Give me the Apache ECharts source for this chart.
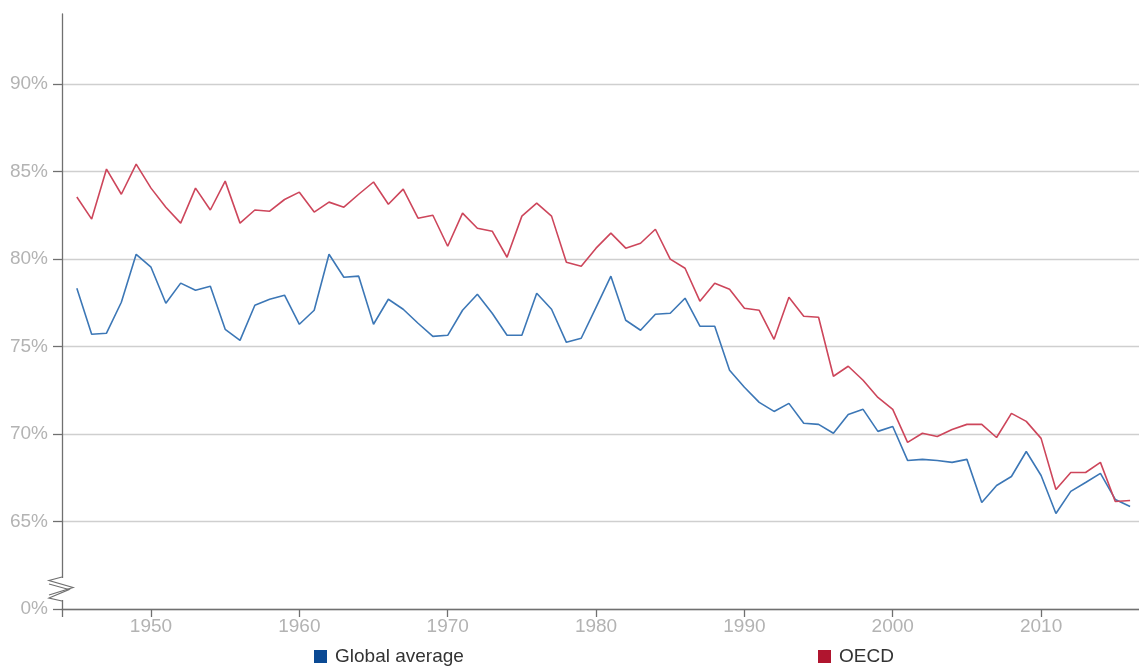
<!DOCTYPE html>
<html>
<head>
<meta charset="utf-8">
<script src="https://cdn.jsdelivr.net/npm/echarts@6/dist/echarts.min.js"></script>
<style>
html,body{margin:0;padding:0;background:#fff;}
#chart{width:1139px;height:668px;}
</style>
</head>
<body>
<div id="chart"></div>
<script>
const years = [];
for (let y = 1945; y <= 2016; y++) years.push(y);

const globalAverage = [
78.33,75.70,75.76,77.53,80.27,79.53,77.47,78.62,78.21,78.44,
75.98,75.35,77.36,77.70,77.93,76.27,77.07,80.27,78.96,79.02,
76.27,77.70,77.13,76.33,75.58,75.64,77.07,77.99,76.90,75.64,
75.64,78.04,77.13,75.24,75.47,77.24,79.02,76.50,75.93,76.84,
76.90,77.76,76.16,76.16,73.64,72.67,71.81,71.29,71.75,70.61,
70.55,70.04,71.12,71.41,70.15,70.43,68.49,68.55,68.49,68.38,
68.55,66.09,67.06,67.57,69.00,67.63,65.46,66.72,67.23,67.75,
66.26,65.86
];

const oecd = [
83.54,82.28,85.14,83.70,85.42,84.05,82.96,82.05,84.05,82.80,
84.45,82.05,82.80,82.73,83.40,83.82,82.68,83.25,82.96,83.70,
84.40,83.13,83.99,82.33,82.50,80.73,82.62,81.76,81.59,80.10,
82.45,83.19,82.45,79.82,79.59,80.62,81.48,80.62,80.90,81.70,
79.99,79.47,77.59,78.62,78.27,77.19,77.07,75.41,77.81,76.73,
76.67,73.30,73.87,73.07,72.09,71.41,69.52,70.04,69.86,70.26,
70.55,70.55,69.80,71.18,70.72,69.75,66.83,67.80,67.80,68.38,
66.14,66.20
];

const xTickValues = [1944,1950,1960,1970,1980,1990,2000,2010];
const xLabelValues = [1950,1960,1970,1980,1990,2000,2010];
const yTickValues = [60,65,70,75,80,85,90];
const yLabelText = {60:'0%',65:'65%',70:'70%',75:'75%',80:'80%',85:'85%',90:'90%'};
const seriesNames = ['Global average','OECD'];

const FONT = '"Liberation Sans", Arial, sans-serif';
const chart = echarts.init(document.getElementById('chart'), null, {renderer:'canvas'});

const legendText = {fontFamily: FONT, fontSize: 19, color: '#333', padding: [0,0,0,3]};
const option = {
  animation: false,
  backgroundColor: '#fff',
  grid: {left: 62, right: 0, top: 14, bottom: 59, containLabel: false},
  legend: [
    {
      data: [{name: seriesNames[0], itemStyle: {color: '#0b4a94'}}],
      left: 314, top: 647, padding: 0, itemWidth: 13, itemHeight: 13, icon: 'rect',
      textStyle: legendText
    },
    {
      data: [{name: seriesNames[1], itemStyle: {color: '#b0152f'}}],
      left: 818, top: 647, padding: 0, itemWidth: 13, itemHeight: 13, icon: 'rect',
      textStyle: legendText
    }
  ],
  xAxis: {
    type: 'value', min: 1944, max: 2016.6,
    axisLine: {show: true, lineStyle: {color: '#707070', width: 1.3}},
    axisTick: {show: true, length: 8, customValues: xTickValues, lineStyle: {color: '#707070', width: 1.3}},
    axisLabel: {customValues: xLabelValues, margin: 8, color: '#b3b3b3', fontFamily: FONT, fontSize: 19,
      formatter: v => String(v)},
    splitLine: {show: false}
  },
  yAxis: {
    type: 'value', min: 60, max: 94,
    axisLine: {show: true, lineStyle: {color: '#707070', width: 1.3}},
    axisTick: {show: true, length: 9, customValues: yTickValues, lineStyle: {color: '#707070', width: 1.3}},
    axisLabel: {customValues: yTickValues, margin: 14, color: '#b3b3b3', fontFamily: FONT, fontSize: 19,
      formatter: v => yLabelText[v] || ''},
    splitLine: {show: true, lineStyle: {color: '#cfcfcf', width: 1.3}}
  },
  series: [
    {
      name: seriesNames[0], type: 'line', symbol: 'none',
      data: years.map((y, i) => [y, globalAverage[i]]),
      lineStyle: {color: '#3c77b6', width: 1.6}, itemStyle: {color: '#3c77b6'}
    },
    {
      name: seriesNames[1], type: 'line', symbol: 'none',
      data: years.map((y, i) => [y, oecd[i]]),
      lineStyle: {color: '#cd465b', width: 1.6}, itemStyle: {color: '#cd465b'}
    }
  ]
};
chart.setOption(option);

// axis-break zigzag decoration placed relative to the axis origin
const o = chart.convertToPixel({gridIndex: 0}, [1944, 60]);
const ax = o[0], ay = o[1];
chart.setOption({
  graphic: [
    {type: 'rect', z: 100, shape: {x: ax - 3, y: ay - 31, width: 6, height: 22}, style: {fill: '#fff'}},
    {type: 'polyline', z: 101, shape: {points: [[ax, ay - 32], [ax - 13, ay - 28.5], [ax + 11, ay - 21.5], [ax - 13, ay - 14]]},
      style: {stroke: '#707070', lineWidth: 1.2, fill: null}},
    {type: 'polyline', z: 101, shape: {points: [[ax - 13, ay - 25], [ax + 7, ay - 19.5], [ax - 13, ay - 11], [ax, ay - 8]]},
      style: {stroke: '#707070', lineWidth: 1.2, fill: null}}
  ]
});
</script>
</body>
</html>
